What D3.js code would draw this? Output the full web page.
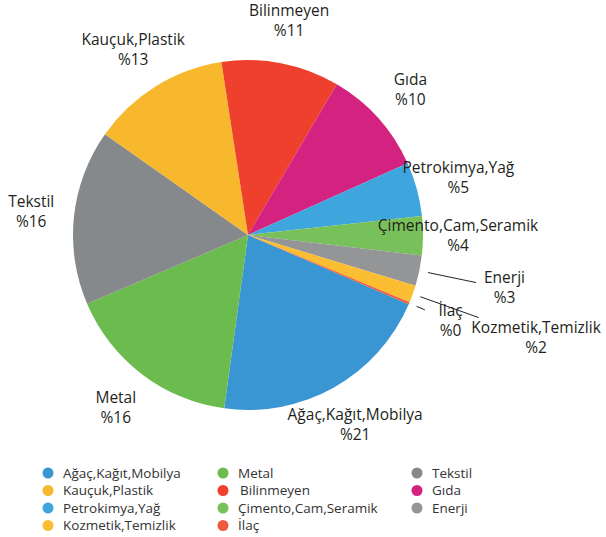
<!DOCTYPE html>
<html>
<head>
<meta charset="utf-8">
<script src="https://cdn.jsdelivr.net/npm/d3@7"></script>
<style>
  body { margin: 0; background: #fff; }
</style>
</head>
<body>
<svg></svg>
<script>
const categories = ['Ağaç,Kağıt,Mobilya', 'Metal', 'Tekstil', 'Kauçuk,Plastik', 'Bilinmeyen', 'Gıda',
  'Petrokimya,Yağ', 'Çimento,Cam,Seramik', 'Enerji', 'Kozmetik,Temizlik', 'İlaç'];
const shares = [20.7, 16.4, 16.2, 12.8, 10.9, 9.8, 5.0, 3.6, 2.8, 1.6, 0.2];
const colors = ['#3a96d3', '#6bbb4f', '#86898b', '#f8b82e', '#ee402d', '#d42281',
  '#3fa5dd', '#78c15a', '#939597', '#fbbd31', '#f05a3c'];

const WIDTH = 606;
const HEIGHT = 537;
const CX = 248;
const CY = 235;
const RADIUS = 175;
const LABEL_R = 218;
const START = 113.3 * Math.PI / 180;

// small slices get pushed out with a leader line
const outLabels = {
  'Enerji': { r0: 184, r1: 233, rt: 262 },
  'Kozmetik,Temizlik': { r0: 183, r1: 245, rt: 306 },
  'İlaç': { r0: 183, r1: 192, rt: 220 }
};

const svg = d3.select('svg')
  .attr('width', WIDTH)
  .attr('height', HEIGHT)
  .attr('font-family', '"Open Sans", sans-serif');

const data = categories.map((c, i) => ({ name: c, value: shares[i], color: colors[i] }));

const pie = d3.pie()
  .sort(null)
  .value(d => d.value)
  .startAngle(START)
  .endAngle(START + 2 * Math.PI);

const arc = d3.arc().innerRadius(0).outerRadius(RADIUS);

const g = svg.append('g').attr('transform', `translate(${CX},${CY})`);
const arcs = pie(data);

g.selectAll('path')
  .data(arcs)
  .enter()
  .append('path')
  .attr('d', arc)
  .attr('fill', d => d.data.color);

const pt = (a, r) => [Math.sin(a) * r, -Math.cos(a) * r];

/* --LABELS-- */
arcs.forEach(d => {
  const mid = (d.startAngle + d.endAngle) / 2;
  const o = outLabels[d.data.name];
  let [x, y] = pt(mid, o ? o.rt : LABEL_R);
  if (d.data.name === 'Çimento,Cam,Seramik') x -= 8;
  if (o) {
    const a = pt(mid, o.r0), b = pt(mid, o.r1);
    g.append('line')
      .attr('x1', a[0]).attr('y1', a[1])
      .attr('x2', b[0]).attr('y2', b[1])
      .attr('stroke', '#222')
      .attr('stroke-width', 1);
  }
  const t = g.append('text')
    .attr('text-anchor', 'middle')
    .attr('font-size', '15.5px')
    .attr('fill', '#231f20');
  t.append('tspan').attr('x', x).attr('y', y - 5).text(d.data.name);
  t.append('tspan').attr('x', x).attr('y', y + 15).text('%' + Math.round(d.data.value));
});

/* --LEGEND-- */
const colX = d3.scaleOrdinal().domain([0, 1, 2]).range([48, 223, 417]);
const rowY = d3.scaleLinear().domain([0, 1]).range([473, 490.5]);

const legend = svg.append('g').attr('font-size', '13.5px').attr('fill', '#333');

const item = legend.selectAll('g')
  .data(data)
  .enter()
  .append('g')
  .attr('transform', (d, i) => `translate(${colX(i % 3)},${rowY(Math.floor(i / 3))})`);

item.append('circle')
  .attr('r', 5.5)
  .attr('fill', d => d.color);

item.append('text')
  .attr('x', d => d.name === 'Bilinmeyen' ? 17 : 15)
  .attr('dy', '0.35em')
  .text(d => d.name);
</script>
</body>
</html>
